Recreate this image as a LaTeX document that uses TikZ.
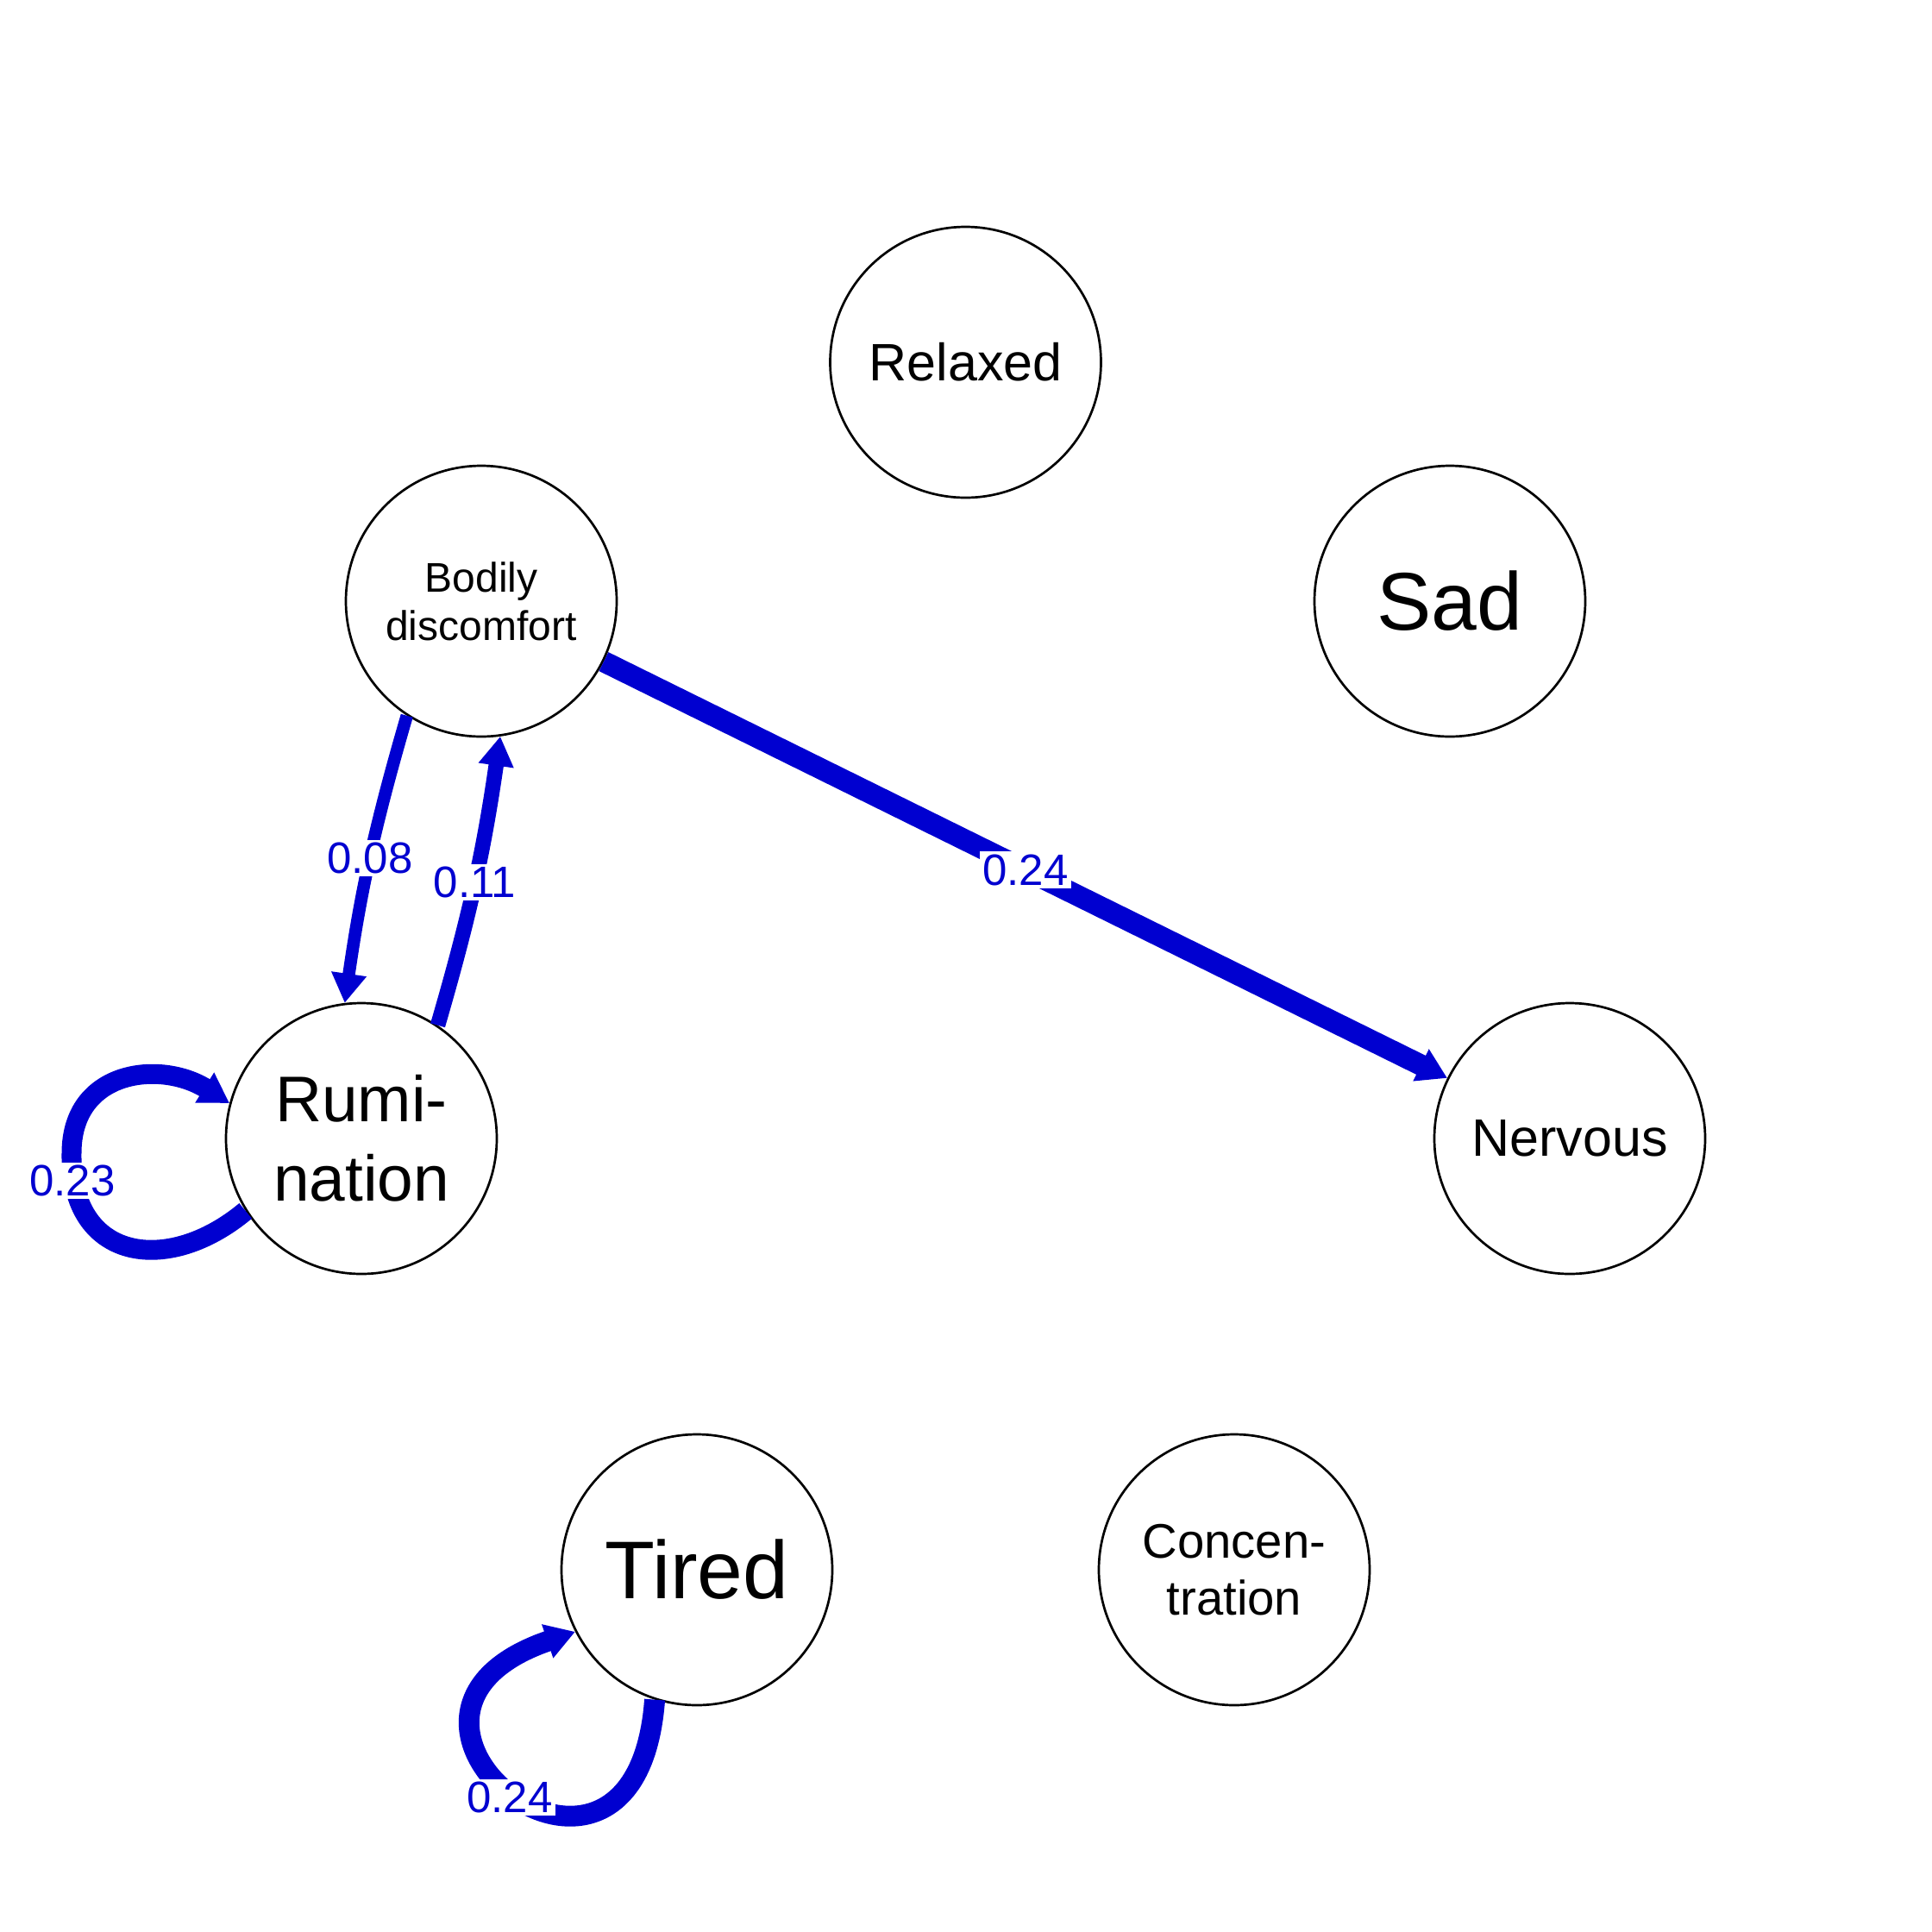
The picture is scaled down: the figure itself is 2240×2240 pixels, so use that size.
\documentclass[tikz,border=0pt]{standalone}
\usepackage{fontspec}
\setmainfont{Liberation Sans}
\usetikzlibrary{arrows.meta}
\definecolor{edgeblue}{RGB}{0,0,208}
\begin{document}
\begin{tikzpicture}[x=0.1mm,y=-0.1mm,
  nd/.style={circle,draw=black,line width=0.27mm,minimum size=31.4mm,inner sep=0pt,align=center},
  edge/.style={draw=edgeblue,-{Triangle[length=3.4mm,width=3.9mm]}},
  elab/.style={fill=white,text=edgeblue,inner sep=0.3mm,font=\fontsize{14.5}{17}\selectfont}]
\fill[white] (0,0) rectangle (2240,2240);
\useasboundingbox (0,0) rectangle (2240,2240);
\node[nd,font=\fontsize{17.36}{20}\selectfont] (rel) at (1119.5,420) {Relaxed};
\node[nd,font=\fontsize{27}{32}\selectfont] (sad) at (1681,697) {Sad};
\node[nd,font=\fontsize{13.66}{15.9}\selectfont] (bod) at (558,697) {Bodily\\discomfort};
\node[nd,font=\fontsize{17.36}{20}\selectfont] (ner) at (1820,1320) {Nervous};
\node[nd,font=\fontsize{21.3}{26.3}\selectfont] (rum) at (419,1320) {Rumi-\\nation};
\node[nd,font=\fontsize{27}{32}\selectfont] (tir) at (808,1820) {Tired};
\node[nd,font=\fontsize{16}{18.8}\selectfont] (con) at (1431,1820) {Concen-\\tration};

\draw[edge,line width=2.45mm] (bod) -- node[elab]{0.24} (ner);
\draw[edge,line width=1.45mm] (bod.237) to[bend right=4] node[elab]{0.08} (rum.97);
\draw[edge,line width=1.75mm] (rum.56) to[bend right=4] node[elab]{0.11} (bod.278);

\coordinate (rumL) at (83,1337);
\draw[edge,line width=2.3mm] (rum.212) .. controls ([shift={(-91,76)}]rum.212) and ([shift={(-2,125)}]rumL) .. (rumL)
  .. controls ([shift={(0,-97)}]rumL) and ([shift={(-80,-50)}]rum.165) .. (rum.165);
\node[elab] (l23) at (84,1369) {0.23};

\draw[edge,line width=2.4mm] (tir.252) .. controls ([shift={(-22,300)}]tir.252) and ([shift={(-288,98)}]tir.207) .. (tir.207);
\node[elab] (l24b) at (591,2084) {0.24};
\end{tikzpicture}
\end{document}
